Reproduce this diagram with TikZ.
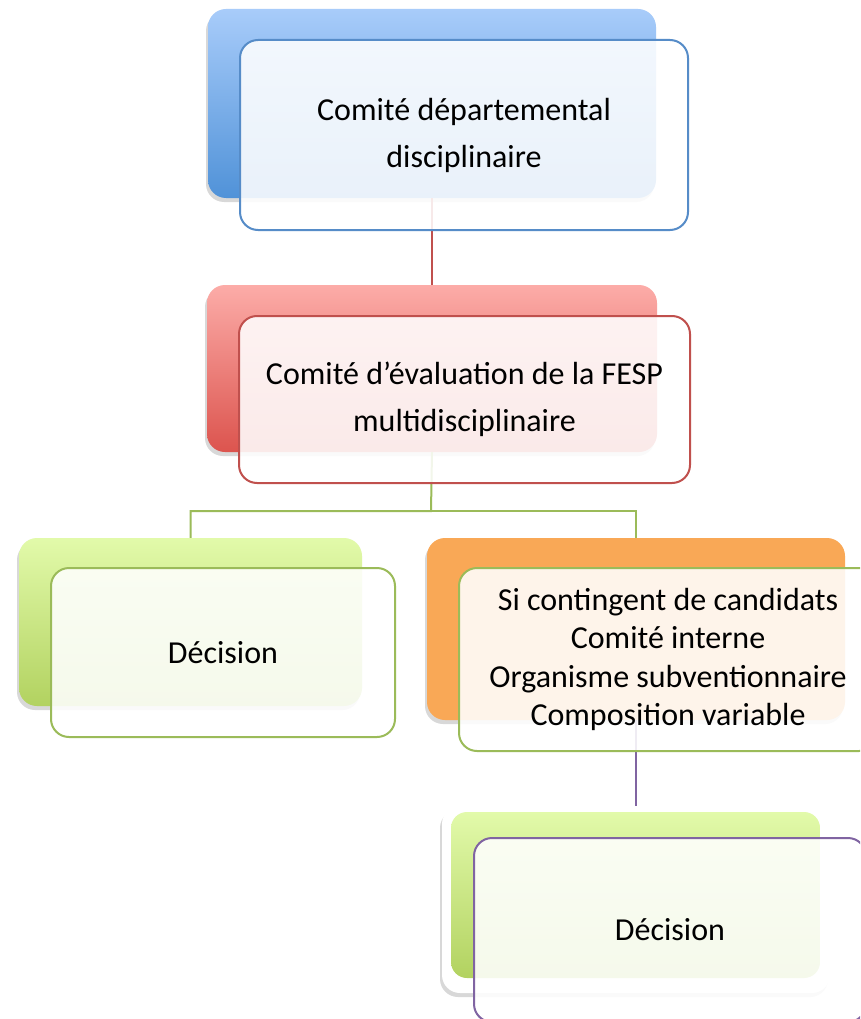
\documentclass[tikz,border=0pt]{standalone}
\usepackage{fontspec}
\setmainfont{Carlito}
\usetikzlibrary{shadows}
\usetikzlibrary{positioning}

\definecolor{bluetop}{RGB}{168,204,250}
\definecolor{bluebot}{RGB}{80,146,216}
\definecolor{blueline}{RGB}{86,140,200}
\definecolor{redtop}{RGB}{252,172,168}
\definecolor{redbot}{RGB}{220,84,78}
\definecolor{redline}{RGB}{192,80,77}
\definecolor{greentop}{RGB}{226,250,170}
\definecolor{greenbot}{RGB}{178,210,96}
\definecolor{greenline}{RGB}{155,187,89}
\definecolor{orangefill}{RGB}{249,168,86}
\definecolor{purpleline}{RGB}{128,100,162}

\begin{document}
\begin{tikzpicture}[x=1pt,y=-1pt,
	back/.style={rectangle, rounded corners=18pt, inner sep=0pt, draw=none,
		drop shadow={shadow xshift=-2pt, shadow yshift=-4pt, opacity=0.3}},
	front/.style={rectangle, rounded corners=18pt, inner sep=0pt, draw=#1, line width=2pt,
		fill=white, fill opacity=0.88, text opacity=1, align=center, text=black,
		font=\fontsize{32}{47}\selectfont},
	link/.style={draw=#1, line width=2pt}]
	\clip (0,0) rectangle (860,1019);
	\fill[white] (0,0) rectangle (860,1019);
	\node[back, top color=bluetop, bottom color=bluebot, minimum width=448pt, minimum height=189pt] (top) at (432,103.5) {};
	\node[back, top color=redtop, bottom color=redbot, minimum width=450pt, minimum height=167pt] (mid) at (432,368.5) {};
	\node[back, top color=greentop, bottom color=greenbot, minimum width=343pt, minimum height=168pt] (left) at (190.5,622) {};
	\node[back, fill=orangefill, minimum width=418pt, minimum height=182pt] (right) at (636,629) {};
	\node[back, fill=white, minimum width=388pt, minimum height=187pt] (low) at (636,899.5) {};
	\node[rectangle, rounded corners=16pt, top color=greentop, bottom color=greenbot, minimum width=369pt, minimum height=166pt] (lowin) at (635.5,895) {};
	\coordinate (fork) at (431,511);
	\draw[link=redline] (top.south) -- (mid.north);
	\draw[link=greenline] (mid.south) -- (fork) -| (left.north);
	\draw[link=greenline] (fork) -| (right.north);
	\draw[link=purpleline] (right.south) -- (low.north);
	\node[front=blueline, minimum width=448pt, minimum height=190pt] (topf) at (464,135) {Comité départemental\\disciplinaire};
	\node[front=redline, minimum width=451pt, minimum height=167pt] (midf) at (464.5,399.5) {Comité d’évaluation de la FESP\\multidisciplinaire};
	\node[front=greenline, minimum width=344pt, minimum height=169pt] (leftf) at (223,652.5) {Décision};
	\node[front=greenline, minimum width=418pt, minimum height=183pt, font=\fontsize{32}{38.5}\selectfont] (rightf) at (668,659.5) {Si contingent de candidats\\Comité interne\\Organisme subventionnaire\\Composition variable};
	\node[front=purpleline, minimum width=392pt, minimum height=184pt] (lowf) at (670,930) {Décision};
\end{tikzpicture}
\end{document}
